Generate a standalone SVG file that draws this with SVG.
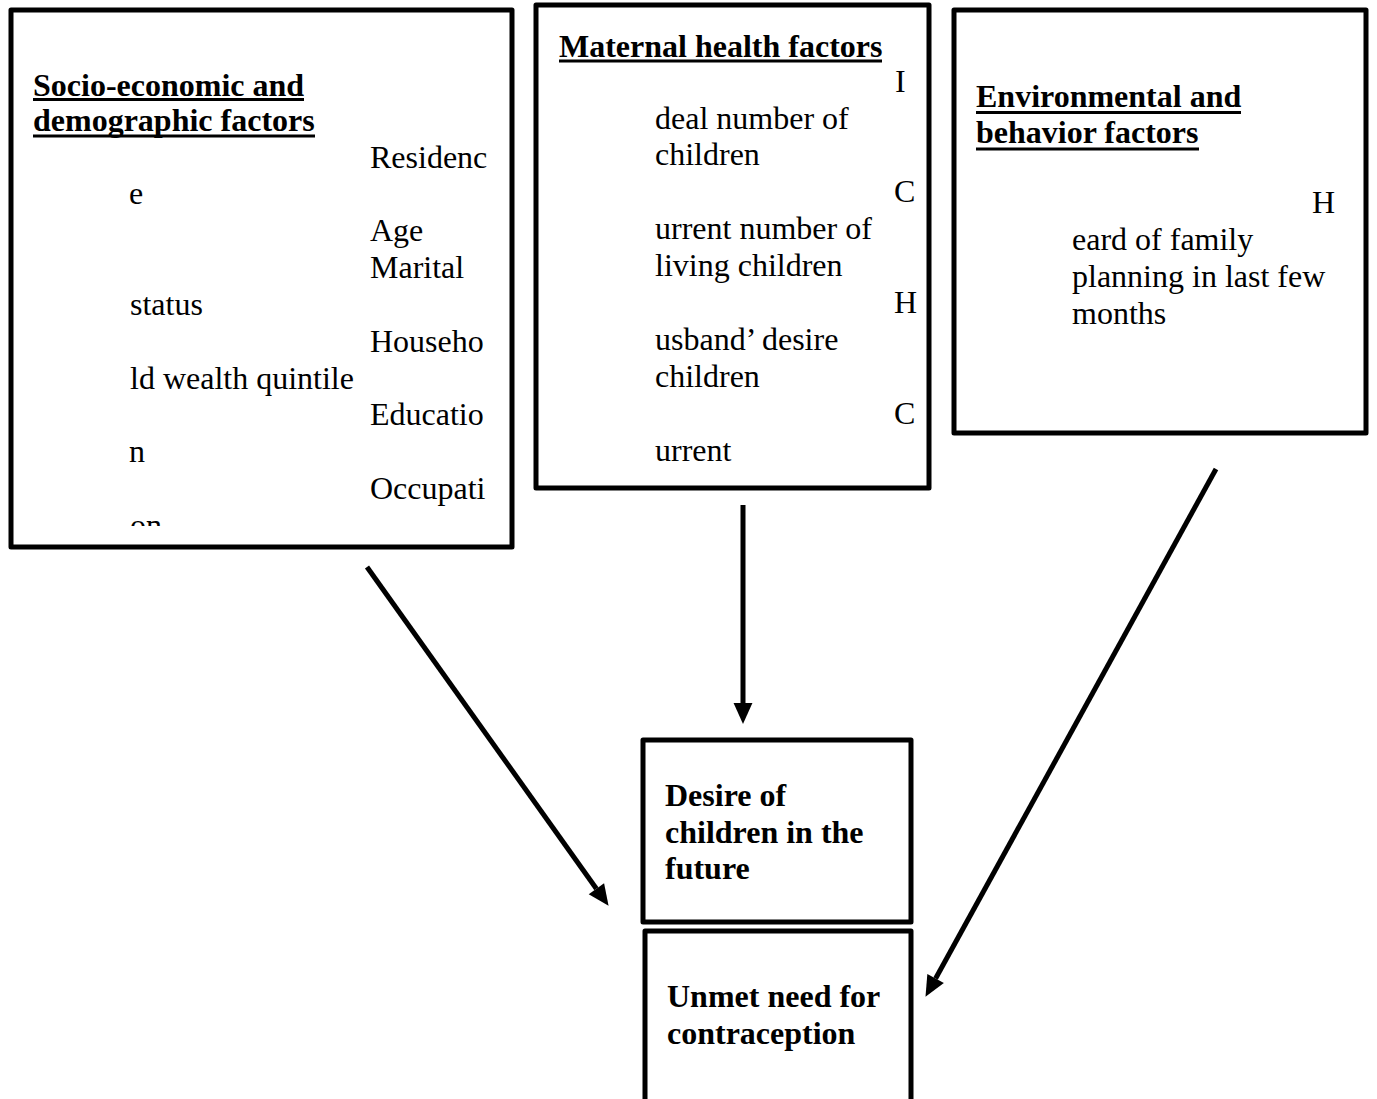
<svg xmlns="http://www.w3.org/2000/svg" width="1377" height="1099" viewBox="0 0 1377 1099">
<style>
.box{fill:#fff;stroke:#000;stroke-width:5;stroke-linejoin:round}
.t{font-family:"Liberation Serif","Times New Roman",serif;font-size:32px;fill:#000}
.b{font-weight:bold}
.ul{stroke:#000;stroke-width:3}
.conn{stroke:#000;stroke-width:5;fill:none}
</style>
<defs>
<marker id="ah" markerUnits="userSpaceOnUse" markerWidth="22" markerHeight="22" viewBox="0 -10 21 20" refX="0" refY="0" orient="auto" overflow="visible">
<path d="M0,-9 L20,0 L0,9 Z" fill="#000"/>
</marker>
<clipPath id="clipL"><rect x="14" y="13" width="495" height="513"/></clipPath>
</defs>
<rect width="1377" height="1099" fill="#fff"/>

<g id="socio">
<rect class="box" x="11" y="10" width="501" height="537"/>
<text class="t b" x="33" y="96">Socio-economic and</text>
<line class="ul" x1="33" y1="99.5" x2="304" y2="99.5"/>
<text class="t b" x="33" y="131">demographic factors</text>
<line class="ul" x1="33" y1="136" x2="315" y2="136"/>
<g clip-path="url(#clipL)">
<text class="t" x="370" y="168">Residenc</text>
<text class="t" x="129" y="204">e</text>
<text class="t" x="370" y="241">Age</text>
<text class="t" x="370" y="278">Marital</text>
<text class="t" x="130" y="315">status</text>
<text class="t" x="370" y="352">Househo</text>
<text class="t" x="130" y="389">ld wealth quintile</text>
<text class="t" x="370" y="425">Educatio</text>
<text class="t" x="129" y="462">n</text>
<text class="t" x="370" y="499">Occupati</text>
<text class="t" x="130" y="536">on</text>
</g>
</g>

<g id="maternal">
<rect class="box" x="536" y="5" width="393" height="483"/>
<text class="t b" x="559" y="57">Maternal health factors</text>
<line class="ul" x1="559" y1="61" x2="882" y2="61"/>
<text class="t" x="895" y="92">I</text>
<text class="t" x="655" y="129">deal number of</text>
<text class="t" x="655" y="165">children</text>
<text class="t" x="894" y="202">C</text>
<text class="t" x="655" y="239">urrent number of</text>
<text class="t" x="655" y="276">living children</text>
<text class="t" x="894" y="313">H</text>
<text class="t" x="655" y="350">usband’ desire</text>
<text class="t" x="655" y="387">children</text>
<text class="t" x="894" y="424">C</text>
<text class="t" x="655" y="461">urrent</text>
</g>

<g id="environmental">
<rect class="box" x="954" y="10" width="412" height="423"/>
<text class="t b" x="976" y="107">Environmental and</text>
<line class="ul" x1="976" y1="112.5" x2="1241" y2="112.5"/>
<text class="t b" x="976" y="143">behavior factors</text>
<line class="ul" x1="976" y1="149" x2="1199" y2="149"/>
<text class="t" x="1312" y="213">H</text>
<text class="t" x="1072" y="250">eard of family</text>
<text class="t" x="1072" y="287">planning in last few</text>
<text class="t" x="1072" y="324">months</text>
</g>

<g id="desire">
<rect class="box" x="643" y="740" width="268" height="182"/>
<text class="t b" x="665" y="806">Desire of</text>
<text class="t b" x="665" y="843">children in the</text>
<text class="t b" x="665" y="879">future</text>
</g>

<g id="unmet">
<rect class="box" x="645" y="931" width="266" height="190"/>
<text class="t b" x="667" y="1007">Unmet need for</text>
<text class="t b" x="667" y="1044">contraception</text>
</g>

<g id="connectors">
<line class="conn" x1="743" y1="505" x2="743" y2="703" marker-end="url(#ah)"/>
<line class="conn" x1="367" y1="567" x2="596.4" y2="888.7" marker-end="url(#ah)"/>
<line class="conn" x1="1216" y1="469" x2="935.6" y2="978.5" marker-end="url(#ah)"/>
</g>
</svg>
